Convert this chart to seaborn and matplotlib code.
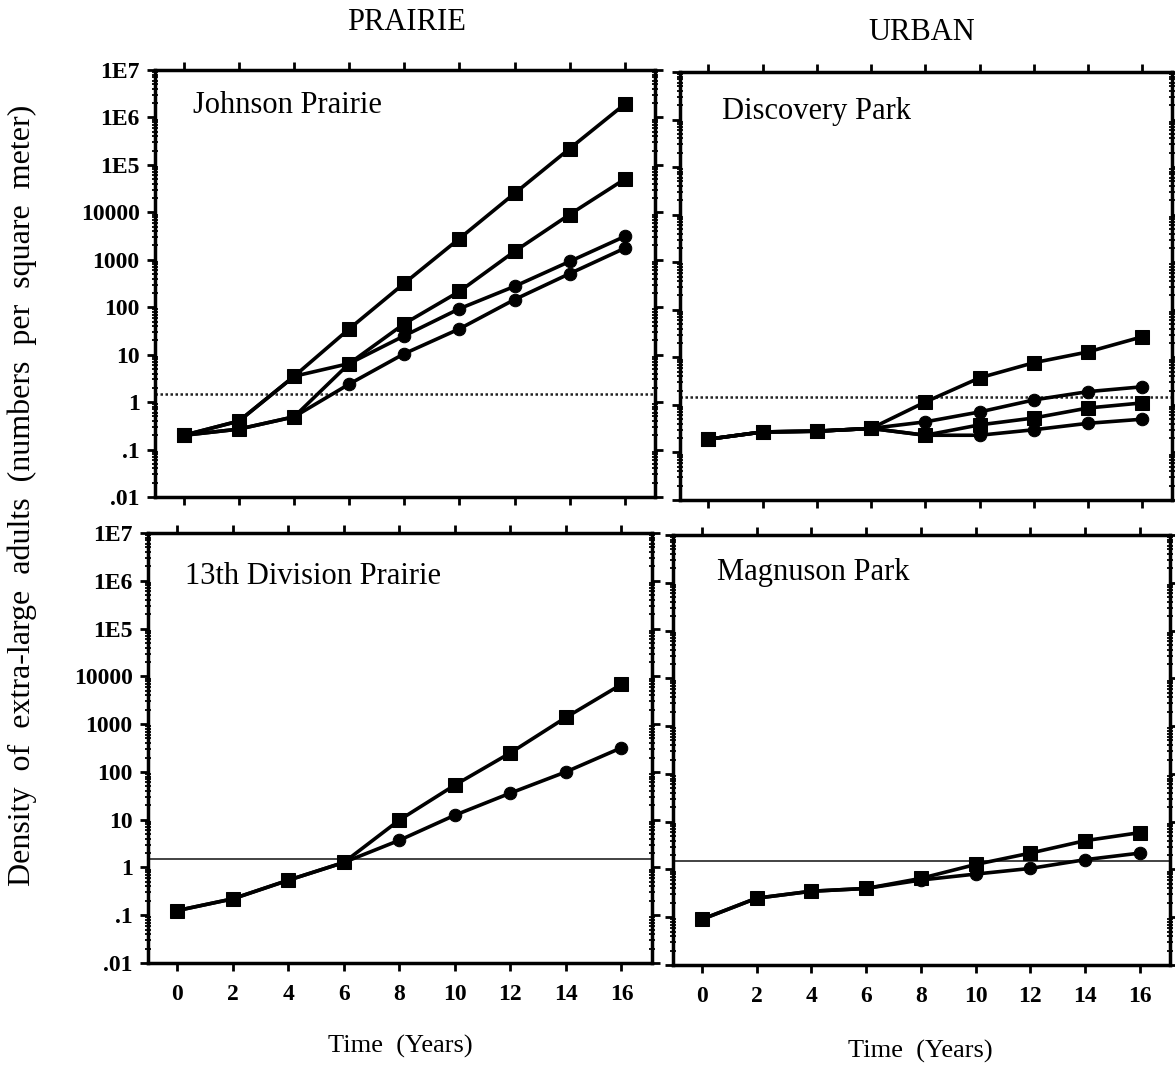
import numpy as np
import pandas as pd
import matplotlib
matplotlib.use("Agg")
import matplotlib.pyplot as plt
from matplotlib.ticker import FixedLocator, FixedFormatter, LogLocator, NullFormatter
import seaborn as sns

# ---- data -------------------------------------------------------------
years = [0, 2, 4, 6, 8, 10, 12, 14, 16]

johnson_sq1 = [0.2, 0.4, 3.5, 35, 320, 2800, 25000, 220000, 1.9e6]
johnson_sq2 = [0.2, 0.27, 0.49, 6.5, 45, 215, 1500, 9000, 50000]
johnson_ci1 = [0.2, 0.4, 3.5, 6.5, 25, 93, 275, 920, 3100]
johnson_ci2 = [0.2, 0.27, 0.49, 2.4, 10.5, 35, 145, 510, 1750]

discovery_sq1 = [0.19, 0.27, 0.28, 0.32, 1.15, 3.7, 7.7, 13, 27]
discovery_ci1 = [0.19, 0.27, 0.28, 0.32, 0.44, 0.71, 1.27, 1.9, 2.4]
discovery_sq2 = [0.19, 0.27, 0.28, 0.32, 0.23, 0.38, 0.53, 0.86, 1.1]
discovery_ci2 = [0.19, 0.27, 0.28, 0.32, 0.23, 0.23, 0.30, 0.41, 0.50]

division_sq = [0.125, 0.22, 0.54, 1.27, 9.8, 53, 250, 1380, 6800]
division_ci = [0.125, 0.22, 0.54, 1.27, 3.7, 12.4, 36, 100, 320]

magnuson_sq = [0.09, 0.25, 0.35, 0.40, 0.65, 1.27, 2.2, 4.0, 5.9]
magnuson_ci = [0.09, 0.25, 0.35, 0.40, 0.60, 0.80, 1.05, 1.6, 2.2]

threshold = 1.5

ytick_values = [1e7, 1e6, 1e5, 1e4, 1e3, 1e2, 10, 1, 0.1, 0.01]
ytick_labels = ["1E7", "1E6", "1E5", "10000", "1000", "100", "10", "1", ".1", ".01"]
xtick_values = years

# name, series, threshold line style, label position (axes fraction)
panels = [
    ("Johnson Prairie", [(johnson_sq1, "s"), (johnson_sq2, "s"),
                         (johnson_ci1, "o"), (johnson_ci2, "o")],
     (0, (1, 1)), (0.076, 0.918)),
    ("Discovery Park", [(discovery_sq1, "s"), (discovery_ci1, "o"),
                        (discovery_sq2, "s"), (discovery_ci2, "o")],
     (0, (1, 1)), (0.085, 0.907)),
    ("13th Division Prairie", [(division_sq, "s"), (division_ci, "o")],
     "-", (0.073, 0.898)),
    ("Magnuson Park", [(magnuson_sq, "s"), (magnuson_ci, "o")],
     "-", (0.089, 0.912)),
]

# ---- figure -----------------------------------------------------------
sns.set_theme(style="white")
plt.rcParams["font.family"] = ["Liberation Serif", "DejaVu Serif"]
plt.rcParams["text.color"] = "black"
plt.rcParams["axes.labelcolor"] = "black"
plt.rcParams["xtick.color"] = "black"
plt.rcParams["ytick.color"] = "black"

fig = plt.figure(figsize=(11.75, 10.88), dpi=100)
W, H = 1175, 1088
boxes = [
    (155, 655, 70, 497),
    (680, 1172, 72, 500),
    (148, 652, 533, 963),
    (673, 1170, 535, 965),
]

for i, ((name, series, ls, lpos), (l, r, t, b)) in enumerate(zip(panels, boxes)):
    ax = fig.add_axes([l / W, 1 - b / H, (r - l) / W, (b - t) / H])
    ax.set_yscale("log")
    for vals, mk in series:
        df = pd.DataFrame({"year": years, "density": vals})
        sns.lineplot(data=df, x="year", y="density", ax=ax, color="black",
                     linewidth=2.6, marker=mk, markersize=10 if mk == "s" else 9,
                     markeredgecolor="black", markerfacecolor="black",
                     errorbar=None, legend=False)
    ax.axhline(threshold, color="#222222", linestyle=ls,
               linewidth=1.8 if ls != "-" else 1.2, zorder=1)

    ax.set_ylim(0.01, 1e7)
    ax.set_xlim(-1.05, 17.1)
    ax.set_xlabel("")
    ax.set_ylabel("")

    ax.yaxis.set_major_locator(FixedLocator(ytick_values))
    ax.yaxis.set_minor_locator(LogLocator(base=10, subs=np.arange(2, 10), numticks=30))
    ax.yaxis.set_minor_formatter(NullFormatter())
    ax.xaxis.set_major_locator(FixedLocator(xtick_values))

    if i % 2 == 0:
        ax.yaxis.set_major_formatter(FixedFormatter(ytick_labels))
    else:
        ax.set_yticklabels([])
    if i >= 2:
        ax.set_xticklabels([str(v) for v in xtick_values])
    else:
        ax.set_xticklabels([])

    ax.tick_params(axis="both", which="major", direction="out", length=6, width=2,
                   color="black", labelcolor="black",
                   top=True, right=True, bottom=True, left=True,
                   labelsize=17, pad=5)
    ax.tick_params(axis="x", which="major", pad=9)
    ax.tick_params(axis="y", which="minor", direction="inout", length=5, width=1.3,
                   color="black", left=True, right=True)
    for lab in ax.get_xticklabels() + ax.get_yticklabels():
        lab.set_fontweight("bold")
    for sp in ax.spines.values():
        sp.set_visible(True)
        sp.set_color("black")
        sp.set_linewidth(2.5)
    ax.set_facecolor("white")
    ax.grid(False)

    ax.text(lpos[0], lpos[1], name, transform=ax.transAxes, fontsize=22,
            ha="left", va="center", color="black")

# column headings and shared labels
fig.text(407 / W, 1 - 22 / H, "PRAIRIE", ha="center", va="center", fontsize=22, color="black")
fig.text(922 / W, 1 - 32 / H, "URBAN", ha="center", va="center", fontsize=22, color="black")
fig.text(400 / W, 1 - 1046 / H, "Time  (Years)", ha="center", va="center", fontsize=19, color="black")
fig.text(920 / W, 1 - 1051 / H, "Time  (Years)", ha="center", va="center", fontsize=19, color="black")
fig.text(22 / W, 1 - 495 / H,
         "Density  of  extra-large  adults  (numbers  per  square  meter)",
         rotation=90, ha="center", va="center", fontsize=23, color="black")

fig.savefig("out.png", dpi=100, facecolor="white")
